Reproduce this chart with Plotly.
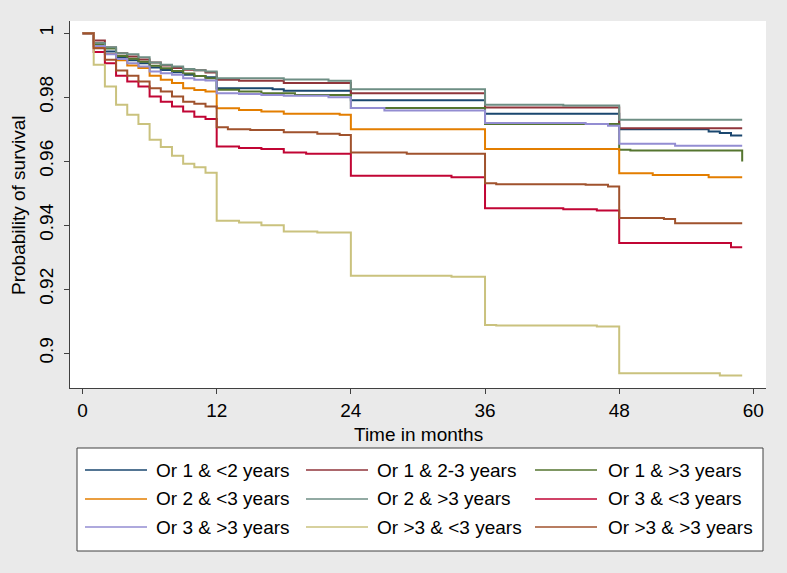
import plotly.graph_objects as go

# ---------------- data ----------------
labels = ["Or 1 & <2 years", "Or 1 & 2-3 years", "Or 1 & >3 years",
          "Or 2 & <3 years", "Or 2 & >3 years", "Or 3 & <3 years",
          "Or 3 & >3 years", "Or >3 & <3 years", "Or >3 & >3 years"]

first_year = list(range(13))

navy_t = first_year + [17, 18, 24, 36, 48, 56, 57, 58, 59]
navy_s = [1, 0.9960, 0.9943, 0.9925, 0.9915, 0.9906, 0.9893, 0.9885, 0.9878, 0.9870, 0.9866, 0.9862, 0.9828,
          0.9825, 0.9820, 0.9790, 0.9748, 0.9700, 0.9693, 0.9688, 0.9680, 0.9680]

maroon_t = first_year + [14, 18, 24, 36, 48, 59]
maroon_s = [1, 0.9977, 0.9955, 0.9937, 0.9927, 0.9918, 0.9908, 0.9899, 0.9891, 0.9886, 0.9884, 0.9877, 0.9854,
            0.9851, 0.9844, 0.9812, 0.9768, 0.9703, 0.9703]

green_t = first_year + [14, 16, 19, 24, 36, 48, 49, 59]
green_s = [1, 0.9966, 0.9952, 0.9929, 0.9920, 0.9911, 0.9898, 0.9890, 0.9882, 0.9874, 0.9866, 0.9859, 0.9823,
           0.9818, 0.9812, 0.9807, 0.9766, 0.9716, 0.9636, 0.9633, 0.9599]

orange_t = first_year + [14, 16, 18, 23, 24, 36, 48, 51, 56, 59]
orange_s = [1, 0.9955, 0.9935, 0.9915, 0.9899, 0.9891, 0.9867, 0.9854, 0.9844, 0.9828, 0.9822, 0.9818, 0.9765,
            0.9760, 0.9755, 0.9748, 0.9745, 0.9700, 0.9638, 0.9562, 0.9557, 0.9550, 0.9550]

teal_t = first_year + [18, 22, 24, 36, 43, 48, 59]
teal_s = [1, 0.9969, 0.9956, 0.9937, 0.9934, 0.9925, 0.9908, 0.9901, 0.9896, 0.9888, 0.9884, 0.9880, 0.9859,
          0.9855, 0.9851, 0.9825, 0.9776, 0.9774, 0.9729, 0.9729]

cranberry_t = first_year + [14, 16, 18, 20, 24, 33, 36, 43, 46, 48, 58, 59]
cranberry_s = [1, 0.9941, 0.9906, 0.9867, 0.9849, 0.9833, 0.9802, 0.9786, 0.9771, 0.9755, 0.9739, 0.9732, 0.9646,
               0.9641, 0.9638, 0.9627, 0.9623, 0.9554, 0.9550, 0.9453, 0.9450, 0.9446, 0.9344, 0.9331, 0.9331]

lavender_t = first_year + [14, 16, 18, 22, 24, 27, 36, 45, 47, 48, 53, 59]
lavender_s = [1, 0.9960, 0.9934, 0.9919, 0.9906, 0.9896, 0.9880, 0.9875, 0.9870, 0.9859, 0.9854, 0.9852, 0.9812,
              0.9810, 0.9807, 0.9804, 0.9800, 0.9766, 0.9758, 0.9719, 0.9716, 0.9711, 0.9654, 0.9648, 0.9648]

khaki_t = first_year + [14, 16, 18, 21, 24, 33, 36, 37, 46, 48, 57, 59]
khaki_s = [1, 0.9901, 0.9833, 0.9776, 0.9745, 0.9716, 0.9667, 0.9644, 0.9617, 0.9592, 0.9581, 0.9564, 0.9414,
           0.9408, 0.9400, 0.9380, 0.9377, 0.9242, 0.9239, 0.9088, 0.9086, 0.9083, 0.8937, 0.8930, 0.8930]

sienna_t = first_year + [13, 15, 18, 21, 23, 24, 29, 36, 37, 45, 47, 48, 52, 53, 59]
sienna_s = [1, 0.9953, 0.9917, 0.9883, 0.9867, 0.9849, 0.9828, 0.9818, 0.9802, 0.9786, 0.9779, 0.9771, 0.9706,
            0.9700, 0.9697, 0.9690, 0.9686, 0.9682, 0.9627, 0.9623, 0.9531, 0.9528, 0.9526, 0.9521, 0.9422,
            0.9419, 0.9406, 0.9406]

x_ticks = [0, 12, 24, 36, 48, 60]
y_ticks = [0.9, 0.92, 0.94, 0.96, 0.98, 1.0]
y_ticktext = ["0.9", "0.92", "0.94", "0.96", "0.98", "1"]

series_t = [navy_t, maroon_t, green_t, orange_t, teal_t, cranberry_t, lavender_t, khaki_t, sienna_t]
series_s = [navy_s, maroon_s, green_s, orange_s, teal_s, cranberry_s, lavender_s, khaki_s, sienna_s]
colors = ["#1a476f", "#90353b", "#55752f", "#e37e00", "#6e8e84", "#c10534", "#938dd2", "#cac27e", "#a0522d"]

# ---------------- figure ----------------
FONT = "Liberation Sans, Arial, sans-serif"
FS = 19
BG = "#eaeaea"
fig = go.Figure()
for lab, t, s, c in zip(labels, series_t, series_s, colors):
    fig.add_trace(go.Scatter(x=t, y=s, mode="lines", name=lab,
                             line=dict(color=c, width=2, shape="hv"),
                             showlegend=False))

W, H = 787, 573
L, R, T, B = 70, 21, 21, 185
pw, ph = W - L - R, H - T - B

def px_x(p):
    return (p - L) / pw

def px_y(p):
    return (H - B - p) / ph

shapes = []
annotations = []

# legend box
shapes.append(dict(type="rect", xref="paper", yref="paper",
                   x0=px_x(77), x1=px_x(763), y0=px_y(551), y1=px_y(448),
                   fillcolor="white", line=dict(color="#404040", width=1), layer="above"))
col_line_x = [85, 306, 535]
col_len = 62
col_text_x = [154, 375, 606]
row_y = [470, 499, 527]
for i, (lab, c) in enumerate(zip(labels, colors)):
    r, k = divmod(i, 3)
    yy = px_y(row_y[r])
    shapes.append(dict(type="line", xref="paper", yref="paper",
                       x0=px_x(col_line_x[k]), x1=px_x(col_line_x[k] + col_len), y0=yy, y1=yy,
                       line=dict(color=c, width=1.5), layer="above"))
    annotations.append(dict(text=lab, xref="paper", yref="paper", x=px_x(col_text_x[k]), y=yy,
                            xanchor="left", yanchor="middle", showarrow=False,
                            font=dict(family=FONT, size=FS, color="black")))

# axis titles
annotations.append(dict(text="Time in months", xref="paper", yref="paper", x=px_x(418), y=px_y(434),
                        xanchor="center", yanchor="middle", showarrow=False,
                        font=dict(family=FONT, size=FS, color="black")))
annotations.append(dict(text="Probability of survival", xref="paper", yref="paper", x=px_x(18), y=px_y(205),
                        xanchor="center", yanchor="middle", textangle=-90, showarrow=False,
                        font=dict(family=FONT, size=FS, color="black")))

fig.update_layout(
    width=W, height=H,
    margin=dict(l=L, r=R, t=T, b=B, pad=0),
    paper_bgcolor=BG,
    plot_bgcolor="white",
    font=dict(family=FONT, size=FS, color="black"),
    shapes=shapes,
    annotations=annotations,
    hovermode=False,
    xaxis=dict(range=[-1.12, 61.13], tickmode="array", tickvals=x_ticks,
               ticks="outside", ticklen=5, tickcolor="#404040", showline=True, linecolor="#404040",
               linewidth=1, showgrid=False, zeroline=False,
               tickfont=dict(family=FONT, size=FS, color="black")),
    yaxis=dict(range=[0.8891, 1.0038], tickmode="array", tickvals=y_ticks, ticktext=y_ticktext,
               tickangle=-90, ticks="outside", ticklen=5, tickcolor="#404040", showline=True,
               linecolor="#404040", linewidth=1, showgrid=False, zeroline=False,
               ticklabelstandoff=3,
               tickfont=dict(family=FONT, size=FS, color="black")),
)

fig.write_html("out.html", config={"displayModeBar": False},
               post_script="document.body.style.margin='0';document.body.style.background='%s';" % BG)
